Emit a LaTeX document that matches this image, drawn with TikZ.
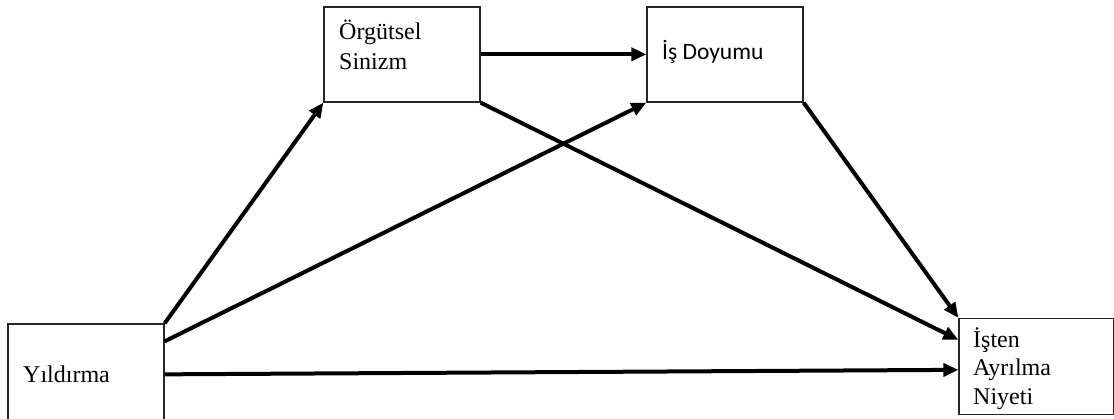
\documentclass[tikz,border=0pt]{standalone}
\usepackage{fontspec}
\setmainfont{Liberation Serif}
\newfontfamily\calibrifont{Carlito}
\usetikzlibrary{arrows.meta}

\begin{document}
\begin{tikzpicture}[
        x=1pt, y=-1pt,
        box/.style={draw=black!85, line width=1.3pt, rectangle, minimum width=156pt, minimum height=95pt, inner sep=0pt},
        lbl/.style={font=\fontsize{24}{30}\selectfont, align=left, inner sep=0pt},
        arrow/.style={-{Triangle[length=15pt, width=13pt]}, line width=4pt}
    ]
        \useasboundingbox (0,0) rectangle (1114,419);

        % boxes
        \node[box, minimum height=130pt] (yildirma) at (86, 389) {};
        \node[box] (sinizm) at (402, 54.5) {};
        \node[box] (doyum) at (725, 54.5) {};
        \node[box, minimum width=155pt, minimum height=96pt] (ayrilma) at (1036.5, 366.5) {};

        % texts
        \node[lbl, anchor=base west] (t_yil) at (23, 383) {Yıldırma};
        \node[lbl, anchor=north west] (t_sin) at (339, 19.5) {Örgütsel\\Sinizm};
        \node[lbl, anchor=base west, font=\calibrifont\fontsize{23.5}{28}\selectfont] (t_doy) at (662, 60) {İş Doyumu};
        \node[lbl, anchor=north west, font=\fontsize{24}{28.5}\selectfont] (t_ayr) at (973, 327) {İşten\\Ayrılma\\Niyeti};

        % paths
        \draw[arrow] (yildirma.north east) -- (sinizm.south west);
        \draw[arrow] ([yshift=-18pt]yildirma.north east) -- (doyum.south west);
        \draw[arrow] ([yshift=-51pt]yildirma.north east) -- ([yshift=-52pt]ayrilma.north west);
        \draw[arrow] ([yshift=-48pt]sinizm.north east) -- ([yshift=-48pt]doyum.north west);
        \draw[arrow] (sinizm.south east) -- ([yshift=-22pt]ayrilma.north west);
        \draw[arrow] (doyum.south east) -- (ayrilma.north west);

    \end{tikzpicture}
\end{document}
